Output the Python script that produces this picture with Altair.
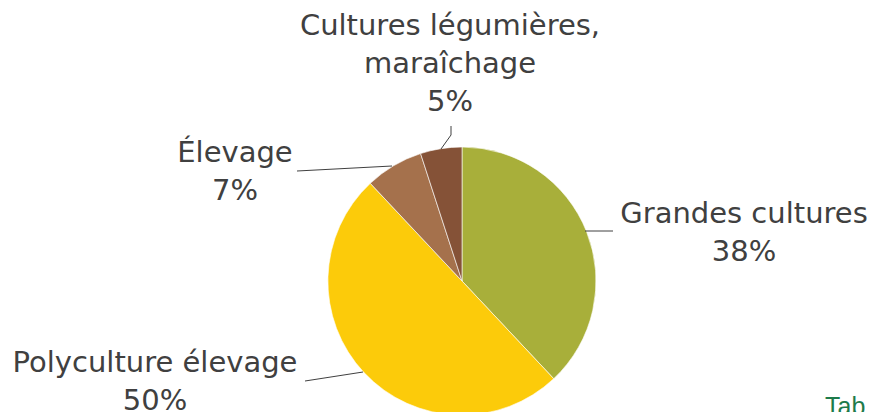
import altair as alt
import pandas as pd

# ---- data ----
categories = ["Grandes cultures", "Polyculture élevage", "Élevage", "Cultures légumières, maraîchage"]
values = [38, 50, 7, 5]
label_lines = [
    ["Grandes cultures", "38%"],
    ["Polyculture élevage", "50%"],
    ["Élevage", "7%"],
    ["Cultures légumières,", "maraîchage", "5%"],
]
colors = ["#A8AF3A", "#FCCB0A", "#A5714C", "#855237"]

# ---- layout (chart pixel coordinates) ----
W, H = 860, 404
CX, CY, R = 454, 273, 134
FONT = "DejaVu Sans"
FS = 29
LH = 38
label_pos = {  # x centre, first baseline
    "Grandes cultures": (736, 215),
    "Polyculture élevage": (147, 364),
    "Élevage": (227, 154),
    "Cultures légumières, maraîchage": (442, 27),
}
leaders = {
    "Grandes cultures": [(577, 223), (605, 223)],
    "Polyculture élevage": [(297, 373), (355, 364)],
    "Élevage": [(289, 163), (384, 158)],
    "Cultures légumières, maraîchage": [(443, 118), (443, 127), (433, 141)],
}

pie_df = pd.DataFrame({"cat": categories, "val": values, "ord": list(range(len(categories)))})
lab_df = pd.DataFrame({
    "cat": categories,
    "txt": label_lines,
    "lx": [label_pos[c][0] for c in categories],
    "ly": [label_pos[c][1] for c in categories],
})
rows = []
for c in categories:
    for i, (x, y) in enumerate(leaders[c]):
        rows.append({"cat": c, "i": i, "px": x, "py": y})
lead_df = pd.DataFrame(rows)

pie = alt.Chart(pie_df).mark_arc(radius=R, stroke="white", strokeWidth=0.6).encode(
    theta=alt.Theta("val:Q", stack=True),
    order=alt.Order("ord:Q"),
    color=alt.Color("cat:N", scale=alt.Scale(domain=categories, range=colors), legend=None),
    x=alt.value(CX),
    y=alt.value(CY),
)

lines = alt.Chart(lead_df).mark_line(color="#404040", strokeWidth=1).encode(
    x=alt.X("px:Q", scale=None, axis=None),
    y=alt.Y("py:Q", scale=None, axis=None),
    detail="cat:N",
    order="i:Q",
)

labels = alt.Chart(lab_df).mark_text(
    font=FONT, fontSize=FS, color="#404040", align="center", baseline="alphabetic", lineHeight=LH
).encode(
    x=alt.X("lx:Q", scale=None, axis=None),
    y=alt.Y("ly:Q", scale=None, axis=None),
    text="txt",
)

tab = alt.Chart(pd.DataFrame({"t": ["Tab"]})).mark_text(
    font="Liberation Sans", fontSize=25, color="#1E7B4B", align="left", baseline="alphabetic"
).encode(x=alt.value(817), y=alt.value(407), text="t:N")

chart = alt.layer(pie, lines, labels, tab).properties(
    width=W, height=H, padding=0, autosize=alt.AutoSizeParams(type="none")
).configure_view(stroke=None)

chart.save("out.html", embed_options={"renderer": "svg", "actions": False})
